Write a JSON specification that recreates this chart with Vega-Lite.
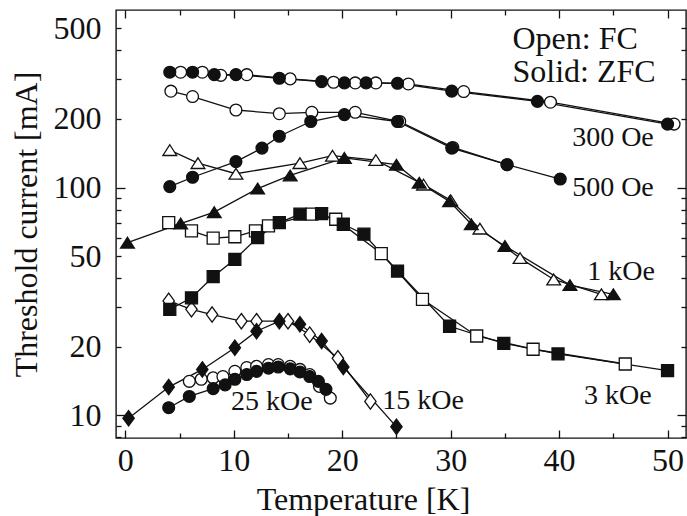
{
  "$schema": "https://vega.github.io/schema/vega-lite/v6.json",
  "width": 570,
  "height": 428,
  "autosize": {"type": "none"},
  "padding": {"left": 116, "top": 10, "right": 1, "bottom": 78},
  "background": "white",
  "config": {
    "view": {"stroke": "#111", "strokeWidth": 1.4},
    "font": "Liberation Serif",
    "axis": {"grid": false, "domain": false, "labelFont": "Liberation Serif", "titleFont": "Liberation Serif", "labelColor": "#111", "titleColor": "#111", "titleFontWeight": "normal", "tickColor": "#111", "tickWidth": 1.3}
  },
  "datasets": {
    "pts": [
      {"f":"300 Oe","m":"ZFC","s":"300Z","T":4.1,"I":321},{"f":"300 Oe","m":"ZFC","s":"300Z","T":6.2,"I":321},{"f":"300 Oe","m":"ZFC","s":"300Z","T":8.2,"I":313},{"f":"300 Oe","m":"ZFC","s":"300Z","T":10.2,"I":313},{"f":"300 Oe","m":"ZFC","s":"300Z","T":14.2,"I":302},{"f":"300 Oe","m":"ZFC","s":"300Z","T":18.1,"I":292},{"f":"300 Oe","m":"ZFC","s":"300Z","T":20.2,"I":288},{"f":"300 Oe","m":"ZFC","s":"300Z","T":22.2,"I":288},{"f":"300 Oe","m":"ZFC","s":"300Z","T":25.1,"I":287},{"f":"300 Oe","m":"ZFC","s":"300Z","T":30.1,"I":265},{"f":"300 Oe","m":"ZFC","s":"300Z","T":38.0,"I":239},{"f":"300 Oe","m":"ZFC","s":"300Z","T":50.0,"I":190},
      {"f":"300 Oe","m":"FC","s":"300F","T":5.1,"I":321},{"f":"300 Oe","m":"FC","s":"300F","T":7.1,"I":321},{"f":"300 Oe","m":"FC","s":"300F","T":8.8,"I":311},{"f":"300 Oe","m":"FC","s":"300F","T":11.2,"I":313},{"f":"300 Oe","m":"FC","s":"300F","T":15.2,"I":300},{"f":"300 Oe","m":"FC","s":"300F","T":19.2,"I":290},{"f":"300 Oe","m":"FC","s":"300F","T":21.2,"I":288},{"f":"300 Oe","m":"FC","s":"300F","T":23.1,"I":288},{"f":"300 Oe","m":"FC","s":"300F","T":26.1,"I":285},{"f":"300 Oe","m":"FC","s":"300F","T":31.2,"I":264},{"f":"300 Oe","m":"FC","s":"300F","T":39.2,"I":237},{"f":"300 Oe","m":"FC","s":"300F","T":50.6,"I":190},
      {"f":"500 Oe","m":"FC","s":"500F","T":4.2,"I":265},{"f":"500 Oe","m":"FC","s":"500F","T":6.2,"I":251},{"f":"500 Oe","m":"FC","s":"500F","T":10.2,"I":219},{"f":"500 Oe","m":"FC","s":"500F","T":14.2,"I":211},{"f":"500 Oe","m":"FC","s":"500F","T":17.2,"I":214},{"f":"500 Oe","m":"FC","s":"500F","T":21.2,"I":214},{"f":"500 Oe","m":"FC","s":"500F","T":25.3,"I":195},{"f":"500 Oe","m":"FC","s":"500F","T":30.2,"I":150},{"f":"500 Oe","m":"FC","s":"500F","T":35.2,"I":126},
      {"f":"500 Oe","m":"ZFC","s":"500Z","T":4.1,"I":101},{"f":"500 Oe","m":"ZFC","s":"500Z","T":6.2,"I":111},{"f":"500 Oe","m":"ZFC","s":"500Z","T":10.2,"I":130},{"f":"500 Oe","m":"ZFC","s":"500Z","T":12.6,"I":149},{"f":"500 Oe","m":"ZFC","s":"500Z","T":14.2,"I":168},{"f":"500 Oe","m":"ZFC","s":"500Z","T":17.1,"I":195},{"f":"500 Oe","m":"ZFC","s":"500Z","T":20.2,"I":209},{"f":"500 Oe","m":"ZFC","s":"500Z","T":25.1,"I":195},{"f":"500 Oe","m":"ZFC","s":"500Z","T":30.1,"I":149},{"f":"500 Oe","m":"ZFC","s":"500Z","T":35.2,"I":126},{"f":"500 Oe","m":"ZFC","s":"500Z","T":40.1,"I":109},
      {"f":"1 kOe","m":"FC","s":"1kF","T":4.1,"I":146},{"f":"1 kOe","m":"FC","s":"1kF","T":6.7,"I":128},{"f":"1 kOe","m":"FC","s":"1kF","T":10.2,"I":115},{"f":"1 kOe","m":"FC","s":"1kF","T":16.1,"I":128},{"f":"1 kOe","m":"FC","s":"1kF","T":19.1,"I":138},{"f":"1 kOe","m":"FC","s":"1kF","T":23.1,"I":132},{"f":"1 kOe","m":"FC","s":"1kF","T":27.5,"I":103},{"f":"1 kOe","m":"FC","s":"1kF","T":30.0,"I":88},{"f":"1 kOe","m":"FC","s":"1kF","T":32.7,"I":66},{"f":"1 kOe","m":"FC","s":"1kF","T":36.4,"I":49},{"f":"1 kOe","m":"FC","s":"1kF","T":39.5,"I":39.5},{"f":"1 kOe","m":"FC","s":"1kF","T":43.9,"I":34},
      {"f":"1 kOe","m":"ZFC","s":"1kZ","T":0.2,"I":57.3},{"f":"1 kOe","m":"ZFC","s":"1kZ","T":5.1,"I":69.5},{"f":"1 kOe","m":"ZFC","s":"1kZ","T":8.2,"I":78},{"f":"1 kOe","m":"ZFC","s":"1kZ","T":12.2,"I":99},{"f":"1 kOe","m":"ZFC","s":"1kZ","T":15.2,"I":113},{"f":"1 kOe","m":"ZFC","s":"1kZ","T":20.2,"I":135},{"f":"1 kOe","m":"ZFC","s":"1kZ","T":25.0,"I":126},{"f":"1 kOe","m":"ZFC","s":"1kZ","T":27.1,"I":105},{"f":"1 kOe","m":"ZFC","s":"1kZ","T":29.9,"I":87},{"f":"1 kOe","m":"ZFC","s":"1kZ","T":31.9,"I":69},{"f":"1 kOe","m":"ZFC","s":"1kZ","T":35.0,"I":55.4},{"f":"1 kOe","m":"ZFC","s":"1kZ","T":41.0,"I":37.3},{"f":"1 kOe","m":"ZFC","s":"1kZ","T":45.0,"I":34},
      {"f":"3 kOe","m":"FC","s":"3kF","T":4.0,"I":70.2},{"f":"3 kOe","m":"FC","s":"3kF","T":6.1,"I":64.5},{"f":"3 kOe","m":"FC","s":"3kF","T":8.1,"I":60},{"f":"3 kOe","m":"FC","s":"3kF","T":10.1,"I":60.8},{"f":"3 kOe","m":"FC","s":"3kF","T":12.0,"I":64.5},{"f":"3 kOe","m":"FC","s":"3kF","T":13.2,"I":67.9},{"f":"3 kOe","m":"FC","s":"3kF","T":17.2,"I":76.4},{"f":"3 kOe","m":"FC","s":"3kF","T":19.4,"I":72.6},{"f":"3 kOe","m":"FC","s":"3kF","T":23.6,"I":51.3},{"f":"3 kOe","m":"FC","s":"3kF","T":27.4,"I":32.3},{"f":"3 kOe","m":"FC","s":"3kF","T":32.4,"I":22.3},{"f":"3 kOe","m":"FC","s":"3kF","T":37.6,"I":19.5},{"f":"3 kOe","m":"FC","s":"3kF","T":46.1,"I":16.8},
      {"f":"3 kOe","m":"ZFC","s":"3kZ","T":4.1,"I":29.2},{"f":"3 kOe","m":"ZFC","s":"3kZ","T":6.1,"I":32.8},{"f":"3 kOe","m":"ZFC","s":"3kZ","T":8.1,"I":40.6},{"f":"3 kOe","m":"ZFC","s":"3kZ","T":10.1,"I":48.4},{"f":"3 kOe","m":"ZFC","s":"3kZ","T":12.2,"I":60.3},{"f":"3 kOe","m":"ZFC","s":"3kZ","T":14.2,"I":70.2},{"f":"3 kOe","m":"ZFC","s":"3kZ","T":16.1,"I":76.4},{"f":"3 kOe","m":"ZFC","s":"3kZ","T":18.1,"I":76.9},{"f":"3 kOe","m":"ZFC","s":"3kZ","T":20.1,"I":69},{"f":"3 kOe","m":"ZFC","s":"3kZ","T":22.0,"I":62.4},{"f":"3 kOe","m":"ZFC","s":"3kZ","T":25.1,"I":43.0},{"f":"3 kOe","m":"ZFC","s":"3kZ","T":29.9,"I":24.6},{"f":"3 kOe","m":"ZFC","s":"3kZ","T":34.9,"I":20.7},{"f":"3 kOe","m":"ZFC","s":"3kZ","T":39.9,"I":18.6},{"f":"3 kOe","m":"ZFC","s":"3kZ","T":50.0,"I":15.7},
      {"f":"15 kOe","m":"FC","s":"15kF","T":4.0,"I":31.8},{"f":"15 kOe","m":"FC","s":"15kF","T":6.1,"I":29.2},{"f":"15 kOe","m":"FC","s":"15kF","T":8.0,"I":27.7},{"f":"15 kOe","m":"FC","s":"15kF","T":10.7,"I":25.9},{"f":"15 kOe","m":"FC","s":"15kF","T":12.1,"I":25.9},{"f":"15 kOe","m":"FC","s":"15kF","T":15.0,"I":25.9},{"f":"15 kOe","m":"FC","s":"15kF","T":17.0,"I":22.6},{"f":"15 kOe","m":"FC","s":"15kF","T":19.6,"I":17.8},{"f":"15 kOe","m":"FC","s":"15kF","T":22.6,"I":11.5},
      {"f":"15 kOe","m":"ZFC","s":"15kZ","T":0.3,"I":9.7},{"f":"15 kOe","m":"ZFC","s":"15kZ","T":4.0,"I":13.3},{"f":"15 kOe","m":"ZFC","s":"15kZ","T":7.1,"I":15.9},{"f":"15 kOe","m":"ZFC","s":"15kZ","T":10.1,"I":19.8},{"f":"15 kOe","m":"ZFC","s":"15kZ","T":12.1,"I":23.4},{"f":"15 kOe","m":"ZFC","s":"15kZ","T":14.2,"I":25.9},{"f":"15 kOe","m":"ZFC","s":"15kZ","T":16.1,"I":25.1},{"f":"15 kOe","m":"ZFC","s":"15kZ","T":18.1,"I":21.2},{"f":"15 kOe","m":"ZFC","s":"15kZ","T":20.1,"I":16.3},{"f":"15 kOe","m":"ZFC","s":"15kZ","T":25.0,"I":8.9},
      {"f":"25 kOe","m":"ZFC","s":"25kZ","T":4.0,"I":10.8},{"f":"25 kOe","m":"ZFC","s":"25kZ","T":5.9,"I":12.1},{"f":"25 kOe","m":"ZFC","s":"25kZ","T":8.1,"I":13.1},{"f":"25 kOe","m":"ZFC","s":"25kZ","T":9.2,"I":13.6},{"f":"25 kOe","m":"ZFC","s":"25kZ","T":10.1,"I":14.4},{"f":"25 kOe","m":"ZFC","s":"25kZ","T":11.2,"I":15.1},{"f":"25 kOe","m":"ZFC","s":"25kZ","T":12.1,"I":15.6},{"f":"25 kOe","m":"ZFC","s":"25kZ","T":13.2,"I":16.1},{"f":"25 kOe","m":"ZFC","s":"25kZ","T":14.1,"I":16.3},{"f":"25 kOe","m":"ZFC","s":"25kZ","T":15.2,"I":16.0},{"f":"25 kOe","m":"ZFC","s":"25kZ","T":16.1,"I":15.5},{"f":"25 kOe","m":"ZFC","s":"25kZ","T":17.0,"I":14.8},{"f":"25 kOe","m":"ZFC","s":"25kZ","T":17.8,"I":14.1},{"f":"25 kOe","m":"ZFC","s":"25kZ","T":18.5,"I":13.0},
      {"f":"25 kOe","m":"FC","s":"25kF","T":5.9,"I":14.1},{"f":"25 kOe","m":"FC","s":"25kF","T":7.0,"I":14.4},{"f":"25 kOe","m":"FC","s":"25kF","T":8.1,"I":14.6},{"f":"25 kOe","m":"FC","s":"25kF","T":9.0,"I":14.8},{"f":"25 kOe","m":"FC","s":"25kF","T":10.1,"I":15.6},{"f":"25 kOe","m":"FC","s":"25kF","T":11.2,"I":16.2},{"f":"25 kOe","m":"FC","s":"25kF","T":12.1,"I":16.4},{"f":"25 kOe","m":"FC","s":"25kF","T":13.2,"I":16.7},{"f":"25 kOe","m":"FC","s":"25kF","T":14.1,"I":16.7},{"f":"25 kOe","m":"FC","s":"25kF","T":15.2,"I":16.4},{"f":"25 kOe","m":"FC","s":"25kF","T":16.1,"I":15.9},{"f":"25 kOe","m":"FC","s":"25kF","T":17.0,"I":15.1},{"f":"25 kOe","m":"FC","s":"25kF","T":17.9,"I":13.4},{"f":"25 kOe","m":"FC","s":"25kF","T":18.9,"I":11.9}
    ],
    "txt": [
      {"k":"legend","label":"Open: FC","T":35.7,"I":449},
      {"k":"legend","label":"Solid: ZFC","T":35.7,"I":321},
      {"k":"ann","label":"300 Oe","T":41.2,"I":165},
      {"k":"ann","label":"500 Oe","T":41.2,"I":99.3},
      {"k":"ann","label":"1 kOe","T":42.6,"I":42.6},
      {"k":"ann","label":"3 kOe","T":42.3,"I":12.1},
      {"k":"ann","label":"15 kOe","T":23.7,"I":11.5},
      {"k":"ann","label":"25 kOe","T":9.75,"I":11.4}
    ]
  },
  "data": {"name": "pts"},
  "resolve": {"axis": {"x": "independent", "y": "independent"}},
  "layer": [
    {
      "mark": {"type": "line", "color": "#111", "strokeWidth": 1.3},
      "encoding": {
        "x": {"field": "T", "type": "quantitative", "scale": {"domain": [-0.86, 51.7], "nice": false, "zero": false},
              "axis": {"orient": "bottom", "values": [0, 10, 20, 30, 40, 50], "ticks": false, "labelFontSize": 32, "labelPadding": 7, "title": "Temperature [K]", "titleFontSize": 32, "titleX": 247, "titleY": 71, "titleBaseline": "alphabetic", "titleAlign": "center"}},
        "y": {"field": "I", "type": "quantitative", "scale": {"type": "log", "domain": [7.95, 602], "nice": false},
              "axis": {"orient": "left", "values": [10, 20, 50, 100, 200, 500], "format": "d", "ticks": false, "labelFontSize": 32, "labelPadding": 15, "title": "Threshold current [mA]", "titleFontSize": 32, "titleX": -80, "titleY": 214, "titleAlign": "center", "titleBaseline": "alphabetic"}},
        "detail": {"field": "s"}
      }
    },
    {
      "mark": {"type": "point", "opacity": 0},
      "encoding": {
        "x": {"field": "T", "type": "quantitative", "axis": {"orient": "bottom", "values": [0, 10, 20, 30, 40, 50], "labels": false, "tickSize": -8, "title": null}},
        "y": {"field": "I", "type": "quantitative", "axis": {"orient": "left", "values": [10, 100], "labels": false, "tickSize": -9, "title": null}}
      }
    },
    {
      "mark": {"type": "point", "opacity": 0},
      "encoding": {
        "x": {"field": "T", "type": "quantitative", "axis": {"orient": "bottom", "values": [5, 15, 25, 35, 45], "labels": false, "tickSize": -5, "title": null}},
        "y": {"field": "I", "type": "quantitative", "axis": {"orient": "left", "values": [8, 9, 20, 30, 40, 50, 60, 70, 80, 90, 200, 300, 400, 500], "labels": false, "tickSize": -5, "title": null}}
      }
    },
    {
      "mark": {"type": "point", "opacity": 0},
      "encoding": {
        "x": {"field": "T", "type": "quantitative", "axis": {"orient": "top", "values": [0, 10, 20, 30, 40, 50], "labels": false, "tickSize": -8, "title": null}},
        "y": {"field": "I", "type": "quantitative", "axis": {"orient": "right", "values": [10, 100], "labels": false, "tickSize": -9, "title": null}}
      }
    },
    {
      "mark": {"type": "point", "opacity": 0},
      "encoding": {
        "x": {"field": "T", "type": "quantitative", "axis": {"orient": "top", "values": [5, 15, 25, 35, 45], "labels": false, "tickSize": -5, "title": null}},
        "y": {"field": "I", "type": "quantitative", "axis": {"orient": "right", "values": [8, 9, 20, 30, 40, 50, 60, 70, 80, 90, 200, 300, 400, 500], "labels": false, "tickSize": -5, "title": null}}
      }
    },
    {
      "mark": {"type": "point", "stroke": "#111", "strokeWidth": 1.3, "opacity": 1, "fillOpacity": 1, "size": 256},
      "encoding": {
        "x": {"field": "T", "type": "quantitative", "axis": null},
        "y": {"field": "I", "type": "quantitative", "axis": null},
        "fill": {"field": "m", "type": "nominal", "scale": {"domain": ["FC", "ZFC"], "range": ["white", "#111"]}, "legend": null},
        "shape": {"field": "f", "type": "nominal", "scale": {"domain": ["300 Oe", "500 Oe", "1 kOe", "3 kOe", "15 kOe", "25 kOe"], "range": ["M0.74,0A0.74,0.74,0,1,1,-0.74,0A0.74,0.74,0,1,1,0.74,0Z", "M0.74,0A0.74,0.74,0,1,1,-0.74,0A0.74,0.74,0,1,1,0.74,0Z", "M0,-0.67L0.86,0.67L-0.86,0.67Z", "M-0.75,-0.75H0.75V0.75H-0.75Z", "M0,-0.96L0.71,0L0,0.96L-0.71,0Z", "M0.74,0A0.74,0.74,0,1,1,-0.74,0A0.74,0.74,0,1,1,0.74,0Z"]}, "legend": null},
        "order": {"field": "m", "type": "nominal"}
      }
    },
    {
      "data": {"name": "txt"},
      "transform": [{"filter": "datum.k == 'legend'"}],
      "mark": {"type": "text", "align": "left", "baseline": "middle", "font": "Liberation Serif", "fontSize": 32, "color": "#111"},
      "encoding": {
        "x": {"field": "T", "type": "quantitative", "axis": null},
        "y": {"field": "I", "type": "quantitative", "axis": null},
        "text": {"field": "label"}
      }
    },
    {
      "data": {"name": "txt"},
      "transform": [{"filter": "datum.k == 'ann'"}],
      "mark": {"type": "text", "align": "left", "baseline": "middle", "font": "Liberation Serif", "fontSize": 28, "color": "#111"},
      "encoding": {
        "x": {"field": "T", "type": "quantitative", "axis": null},
        "y": {"field": "I", "type": "quantitative", "axis": null},
        "text": {"field": "label"}
      }
    }
  ]
}
